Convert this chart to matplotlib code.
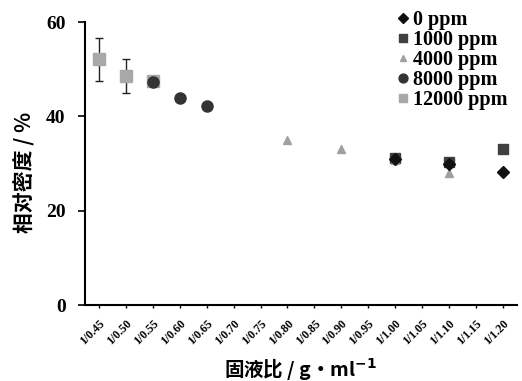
import matplotlib
matplotlib.use("Agg")
import matplotlib.pyplot as plt
import numpy as np

categories = ["1/0.45", "1/0.50", "1/0.55", "1/0.60", "1/0.65", "1/0.70", "1/0.75", "1/0.80",
              "1/0.85", "1/0.90", "1/0.95", "1/1.00", "1/1.05", "1/1.10", "1/1.15", "1/1.20"]

s0_x = ["1/1.00", "1/1.10", "1/1.20"]
s0_y = [31.0, 30.0, 28.3]
s1000_x = ["1/1.00", "1/1.10", "1/1.20"]
s1000_y = [31.3, 30.4, 33.0]
s4000_x = ["1/0.80", "1/0.90", "1/1.00", "1/1.10"]
s4000_y = [35.0, 33.0, 30.8, 28.0]
s8000_x = ["1/0.55", "1/0.60", "1/0.65"]
s8000_y = [47.2, 44.0, 42.3]
s12000_x = ["1/0.45", "1/0.50", "1/0.55"]
s12000_y = [52.1, 48.6, 47.5]
s12000_err = [4.6, 3.6, 0.0]

yticks = [0, 20, 40, 60]
legend_labels = ["0 ppm", "1000 ppm", "4000 ppm", "8000 ppm", "12000 ppm"]

serif = "Liberation Serif"
cjk = ["Noto Sans CJK SC", "DejaVu Sans"]

fig = plt.figure(figsize=(5.22, 3.81), dpi=100)
ax = fig.add_axes([0.163, 0.199, 0.827, 0.743])

idx = {c: i for i, c in enumerate(categories)}

def pos(xs):
    return [idx[c] for c in xs]

ax.errorbar(pos(s12000_x), s12000_y, yerr=s12000_err, fmt="none",
            ecolor="#222222", elinewidth=1.0, capsize=3, capthick=1.0, zorder=2)
h12000, = ax.plot(pos(s12000_x), s12000_y, "s", color="#a8a8a8", markersize=8, zorder=3)
h8000, = ax.plot(pos(s8000_x), s8000_y, "o", color="#333333", markersize=8, zorder=4)
h4000, = ax.plot(pos(s4000_x), s4000_y, "^", color="#a0a0a0", markersize=6, zorder=5)
h1000, = ax.plot(pos(s1000_x), s1000_y, "s", color="#404040", markersize=7.5, zorder=4)
h0, = ax.plot(pos(s0_x), s0_y, "D", color="#111111", markersize=6, zorder=6)

ax.set_xlim(-0.52, 15.52)
ax.set_ylim(0, 60)
ax.set_yticks(yticks)
ax.set_yticklabels([str(v) for v in yticks], fontfamily=serif, fontweight="bold", fontsize=14)
ax.set_xticks(range(len(categories)))
ax.set_xticklabels(categories, rotation=45, ha="right", rotation_mode="anchor",
                   fontfamily=serif, fontweight="bold", fontsize=8.5)
ax.tick_params(axis="x", direction="out", length=2, width=1, pad=7)
ax.tick_params(axis="y", direction="out", length=5, width=1.2, pad=9)
for s in ["top", "right"]:
    ax.spines[s].set_visible(False)
ax.spines["left"].set_linewidth(1.5)
ax.spines["bottom"].set_linewidth(1.5)

ax.set_ylabel("相对密度 / %", fontfamily=cjk, fontweight="bold", fontsize=15)
ax.yaxis.set_label_coords(-0.115, 0.47)
ax.set_xlabel("固液比 / g·ml$^{\\mathbf{-1}}$", fontfamily=cjk, fontweight="bold", fontsize=14)
ax.xaxis.set_label_coords(0.5, -0.18)

handles = [h0, h1000, h4000, h8000, h12000]
leg = fig.legend(handles, legend_labels, loc="upper left", bbox_to_anchor=(398 / 522, 1 - 10 / 381),
                 frameon=False, handlelength=0.5, handletextpad=0.25, labelspacing=0.0,
                 borderpad=0.0, borderaxespad=0.0, markerscale=0.8,
                 prop={"family": serif, "weight": "bold", "size": 14.5})

fig.savefig("out.png", dpi=100)
